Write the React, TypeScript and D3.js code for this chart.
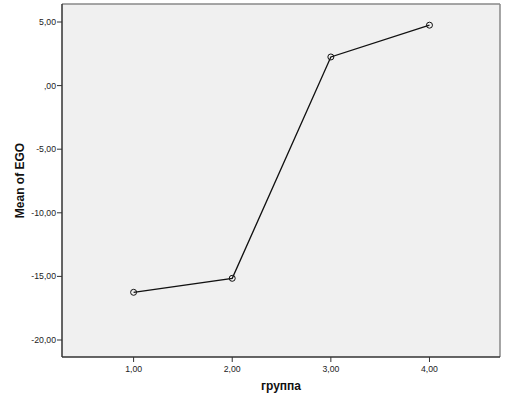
import React from "react";
import * as d3 from "d3";

const groups = [1, 2, 3, 4];
const means = [-16.25, -15.15, 2.25, 4.75];
const yTicks = [5, 0, -5, -10, -15, -20];
const xTicks = [1, 2, 3, 4];

const W = 507, H = 406;
const L = 62, R = 500, T = 4, B = 357;

const fmt = (v: number) => {
  const s = Math.abs(v).toFixed(2).replace(".", ",");
  const t = s.startsWith("0,") ? s.slice(1) : s;
  return (v < 0 ? "-" : "") + t;
};

export default function App() {
  const x = d3.scaleLinear().domain([0.274, 4.715]).range([L, R]);
  const y = d3.scaleLinear().domain([5, -20]).range([22, 340]);
  const line = d3.line<number>().x((_, i) => x(groups[i])).y((d) => y(d));
  const font = "Arial, 'Liberation Sans', sans-serif";
  return (
    <svg width={W} height={H} style={{ position: "absolute", left: 0, top: 0 }}>
      <rect x={0} y={0} width={W} height={H} fill="#fff" />
      <rect x={L} y={T} width={R - L} height={B - T} fill="#f0f0f0" />
      <line x1={L} y1={T} x2={R} y2={T} stroke="#888" strokeWidth={1.5} />
      <line x1={R} y1={T} x2={R} y2={B} stroke="#888" strokeWidth={1.5} />
      <line x1={L} y1={T} x2={L} y2={B} stroke="#333" strokeWidth={1.5} />
      <line x1={L} y1={B} x2={R} y2={B} stroke="#333" strokeWidth={1.5} />
      {yTicks.map((t) => (
        <g key={t}>
          <line x1={L - 5} x2={L} y1={y(t)} y2={y(t)} stroke="#333" strokeWidth={1} />
          <text x={L - 6} y={y(t)} dy="0.35em" textAnchor="end" fontFamily={font} fontSize={8.7} fill="#222">
            {fmt(t)}
          </text>
        </g>
      ))}
      {xTicks.map((t) => (
        <g key={t}>
          <line x1={x(t)} x2={x(t)} y1={B} y2={B + 5} stroke="#333" strokeWidth={1} />
          <text x={x(t)} y={B + 15} textAnchor="middle" fontFamily={font} fontSize={8.7} fill="#222">
            {fmt(t)}
          </text>
        </g>
      ))}
      <path d={line(means) || ""} fill="none" stroke="#111" strokeWidth={1.3} />
      {means.map((m, i) => (
        <circle key={i} cx={x(groups[i])} cy={y(m)} r={3} fill="none" stroke="#111" strokeWidth={1} />
      ))}
      <text x={(L + R) / 2} y={390} textAnchor="middle" fontFamily={font} fontSize={12} fontWeight="bold" fill="#111">
        группа
      </text>
      <text
        transform={`translate(24, ${(T + B) / 2}) rotate(-90)`}
        textAnchor="middle"
        fontFamily={font}
        fontSize={12}
        fontWeight="bold"
        fill="#111"
      >
        Mean of EGO
      </text>
    </svg>
  );
}
